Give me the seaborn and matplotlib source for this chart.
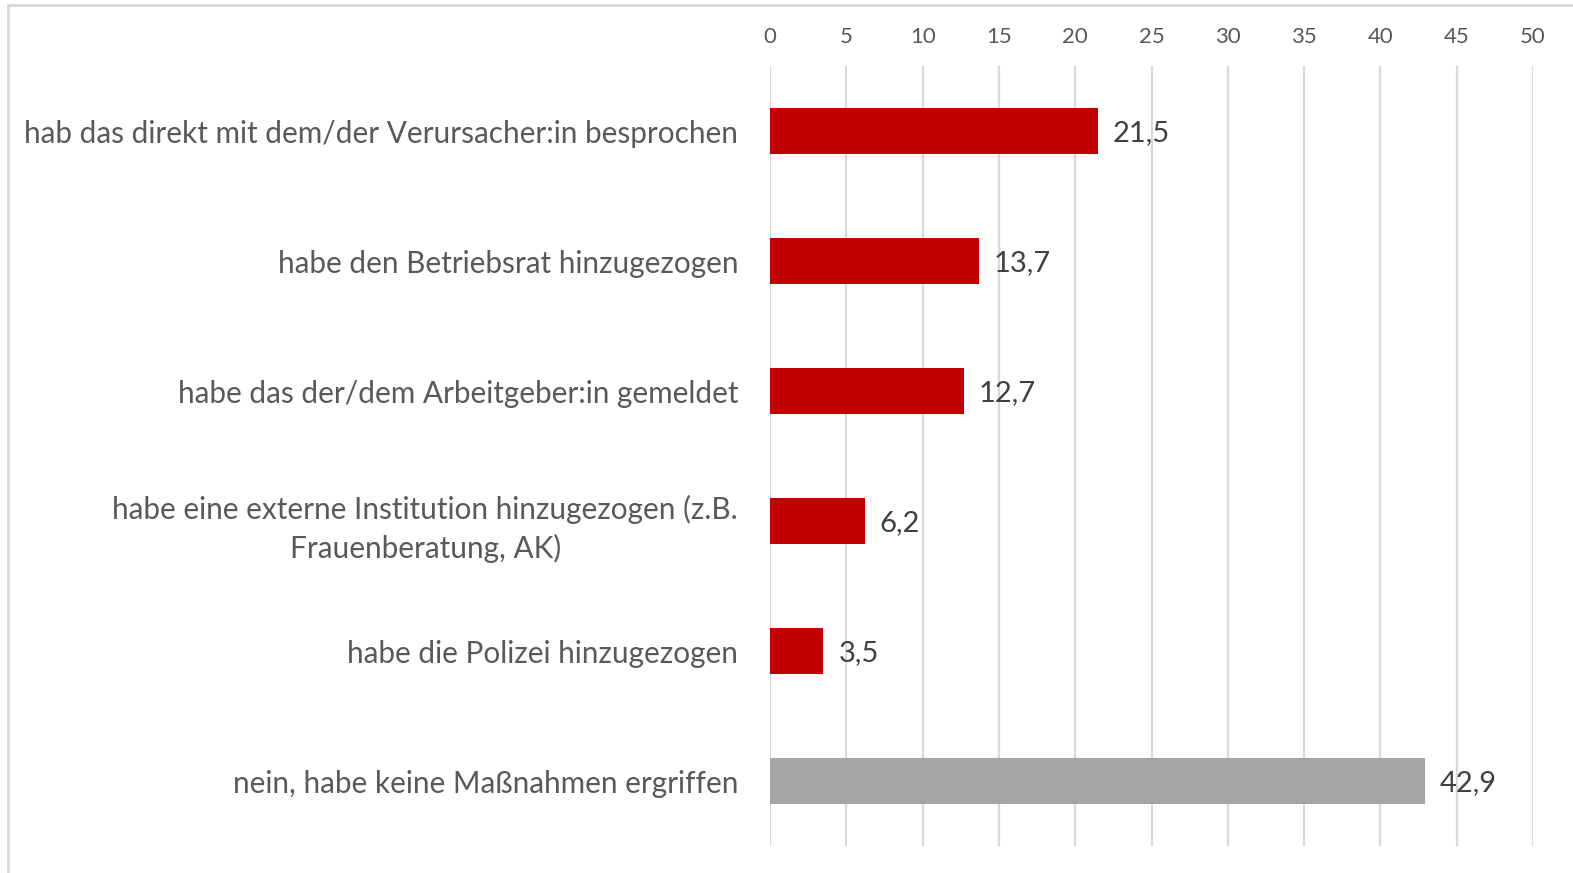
import matplotlib
matplotlib.use("Agg")
import matplotlib.pyplot as plt
import seaborn as sns
import pandas as pd
from matplotlib.lines import Line2D

categories = [
    "hab das direkt mit dem/der Verursacher:in besprochen",
    "habe den Betriebsrat hinzugezogen",
    "habe das der/dem Arbeitgeber:in gemeldet",
    "habe eine externe Institution hinzugezogen (z.B.\nFrauenberatung, AK)",
    "habe die Polizei hinzugezogen",
    "nein, habe keine Maßnahmen ergriffen",
]
values = [21.5, 13.7, 12.7, 6.2, 3.5, 42.9]
value_labels = ["21,5", "13,7", "12,7", "6,2", "3,5", "42,9"]
bar_colors = ["#C00000", "#C00000", "#C00000", "#C00000", "#C00000", "#A5A5A5"]
xticks = [0, 5, 10, 15, 20, 25, 30, 35, 40, 45, 50]

sns.set_theme(style="white")
plt.rcParams["font.family"] = ["Lato", "DejaVu Sans"]

W, H = 1573, 873
fig = plt.figure(figsize=(W / 100, H / 100), dpi=100)
ax = fig.add_axes([770 / W, 1 - 846 / H, (1533 - 770) / W, (846 - 66) / H])

df = pd.DataFrame({"cat": categories, "val": values})
sns.barplot(data=df, x="val", y="cat", hue="cat", palette=bar_colors,
            legend=False, width=0.35, ax=ax, saturation=1, edgecolor="none")

ax.set_xlim(0, 50)
ax.set_xticks(xticks)
ax.xaxis.tick_top()
ax.tick_params(axis="x", length=0, labelsize=16, labelcolor="#595959", pad=14)
ax.tick_params(axis="y", length=0, labelsize=21.4, labelcolor="#595959", pad=23)
for lab in ax.get_yticklabels():
    lab.set_multialignment("center")
    lab.set_linespacing(1.45)
ax.set_xlabel("")
ax.set_ylabel("")
ax.grid(axis="x", color="#D9D9D9", linewidth=1.6)
ax.set_axisbelow(True)
for s in ax.spines.values():
    s.set_visible(False)

for i, (v, t) in enumerate(zip(values, value_labels)):
    ax.annotate(t, xy=(v, i), xytext=(15, -2), textcoords="offset pixels",
                ha="left", va="center", fontsize=21, color="#404040")

# outer frame (top and left)
fig.add_artist(Line2D([8 / W, 1], [1 - 5 / H, 1 - 5 / H], transform=fig.transFigure,
                      color="#D9D9D9", linewidth=2))
fig.add_artist(Line2D([8 / W, 8 / W], [0, 1 - 5 / H], transform=fig.transFigure,
                      color="#D9D9D9", linewidth=2))

fig.savefig("out.png", dpi=100, facecolor="white")
